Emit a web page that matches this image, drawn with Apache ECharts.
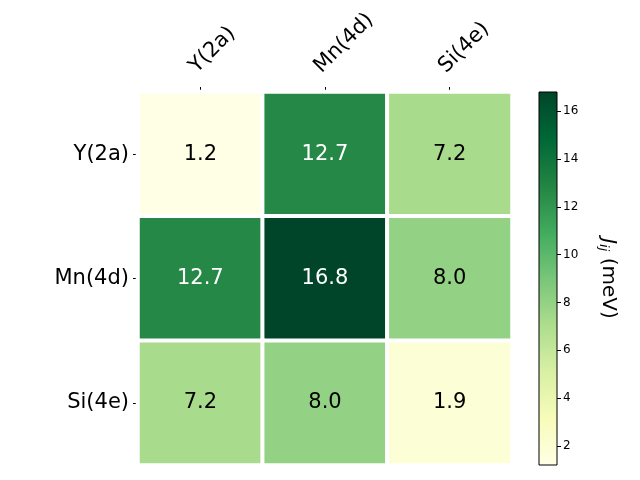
<!DOCTYPE html>
<html><head><meta charset="utf-8">
<script src="https://cdn.jsdelivr.net/npm/echarts@6/dist/echarts.min.js"></script>
<style>html,body{margin:0;padding:0;background:#fff}#c{width:640px;height:480px}</style>
</head><body><div id="c"></div>
<script>
const xCategories = ['Y(2a)', 'Mn(4d)', 'Si(4e)'];
const yCategories = ['Y(2a)', 'Mn(4d)', 'Si(4e)'];
const rowY2a = [1.2, 12.7, 7.2];
const rowMn4d = [12.7, 16.8, 8.0];
const rowSi4e = [7.2, 8.0, 1.9];
const colorbarTicks = [2, 4, 6, 8, 10, 12, 14, 16];
const cbMin = 1.2, cbMax = 16.8;
const ylgn = ['#ffffe5','#f7fcb9','#d9f0a3','#addd8e','#78c679','#41ab5d','#238443','#006837','#004529'];

const rows = [rowY2a, rowMn4d, rowSi4e];
const heatData = [];
rows.forEach((row, yi) => row.forEach((v, xi) => {
  heatData.push({value: [xi, yi, v], label: {color: v > 10 ? '#ffffff' : '#000000'}});
}));

const font = 'DejaVu Sans';
const chart = echarts.init(document.getElementById('c'), null, {renderer: 'canvas'});
chart.setOption({
  animation: false,
  textStyle: {fontFamily: font},
  grid: [
    {left: 138, top: 92, width: 374, height: 373},
    {left: 539, top: 92, width: 18, height: 373, show: true, borderColor: '#000', borderWidth: 1, backgroundColor: 'transparent', z: 10}
  ],
  xAxis: [
    {type: 'category', gridIndex: 0, data: xCategories, position: 'top',
     axisLine: {show: false}, splitLine: {show: false},
     axisTick: {show: true, alignWithLabel: true, length: 5, lineStyle: {color: '#000', width: 1}},
     axisLabel: {rotate: -45, fontSize: 21, color: '#000', fontFamily: font, margin: 15, verticalAlign: 'bottom'}},
    {type: 'category', gridIndex: 1, data: [''], show: false}
  ],
  yAxis: [
    {type: 'category', gridIndex: 0, data: yCategories, inverse: true,
     axisLine: {show: false}, splitLine: {show: false},
     axisTick: {show: true, alignWithLabel: true, length: 5, lineStyle: {color: '#000', width: 1}},
     axisLabel: {fontSize: 21, color: '#000', fontFamily: font, margin: 9}},
    {type: 'value', gridIndex: 1, min: cbMin, max: cbMax, position: 'right',
     axisLine: {show: false}, splitLine: {show: false},
     axisTick: {show: true, length: 4, customValues: colorbarTicks, lineStyle: {color: '#000'}},
     axisLabel: {fontSize: 12, color: '#000', fontFamily: font, margin: 6, customValues: colorbarTicks},
     name: '{j|J}{s|ij} (meV)', nameLocation: 'middle', nameRotate: -90, nameGap: 40,
     nameTextStyle: {fontSize: 20, color: '#000', fontFamily: font,
       rich: {j: {fontSize: 20, fontStyle: 'italic', fontFamily: font},
              s: {fontSize: 13, fontStyle: 'italic', fontFamily: font, padding: [9, 0, 0, 0]}}}}
  ],
  visualMap: {type: 'continuous', show: false, min: cbMin, max: cbMax, seriesIndex: 0, dimension: 2,
    inRange: {color: ylgn}},
  series: [
    {type: 'heatmap', xAxisIndex: 0, yAxisIndex: 0, data: heatData,
     itemStyle: {borderColor: '#fff', borderWidth: 4},
     label: {show: true, fontSize: 21, fontFamily: font, formatter: p => p.value[2].toFixed(1)}},
    {type: 'custom', xAxisIndex: 1, yAxisIndex: 1, data: [[0, cbMin, cbMax]],
     renderItem: function (params, api) {
       const lo = api.coord([api.value(0), api.value(1)]);
       const hi = api.coord([api.value(0), api.value(2)]);
       const w = api.size([1, 0])[0];
       const stops = ylgn.map((c, i) => ({offset: 1 - i / (ylgn.length - 1), color: c}));
       return {type: 'rect', shape: {x: lo[0] - w / 2, y: hi[1], width: w, height: lo[1] - hi[1]},
         style: {fill: new echarts.graphic.LinearGradient(0, 0, 0, 1, stops)}};
     }}
  ]
});
</script></body></html>
